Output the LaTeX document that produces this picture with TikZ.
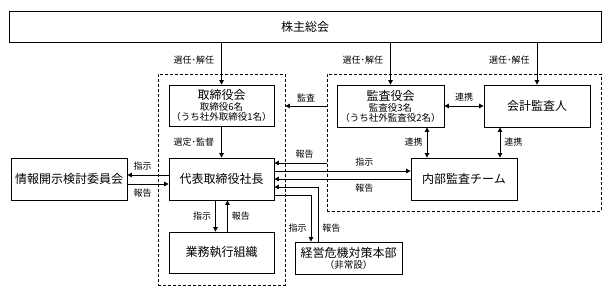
\documentclass[tikz,border=0pt]{standalone}
\usepackage{fontspec}
\setmainfont{Noto Sans CJK JP}
\usetikzlibrary{arrows.meta,calc}

\newcommand{\bigtxt}{\fontsize{12}{14}\selectfont}
\newcommand{\smtxt}{\fontsize{9.5}{11}\selectfont}

\begin{document}
\begin{tikzpicture}[x=1pt,y=-1pt,line width=0.8pt]

\tikzstyle{box}=[draw,rectangle,inner sep=0pt,align=center,font=\bigtxt];
\tikzstyle{group}=[draw,dash pattern=on 3pt off 2pt,rectangle,inner sep=0pt];
\tikzstyle{lbl}=[inner sep=1pt,font=\fontsize{9}{10}\selectfont];
\tikzstyle{arr}=[-{Triangle[length=4.5pt,width=4.5pt]}];
\tikzstyle{darr}=[{Triangle[length=4.5pt,width=4.5pt]}-{Triangle[length=4.5pt,width=4.5pt]}];

\useasboundingbox (0,0) rectangle (612,296);

% Dashed groups
\node[group,minimum width=127pt,minimum height=211pt] (grpL) at (221.5,179.5) {};
\node[group,minimum width=274pt,minimum height=137pt] (grpR) at (464,142.5) {};

% Boxes
\node[box,minimum width=592pt,minimum height=31pt] (soukai) at (305,26.5) {株主総会};
\node[box,minimum width=105pt,minimum height=41pt] (torishimari) at (221.5,105.5)
  {取締役会\\[-3pt]{\smtxt 取締役6名}\\[-4pt]{\smtxt （うち社外取締役1名）}};
\node[box,minimum width=107pt,minimum height=42pt] (kansayaku) at (390.5,106)
  {監査役会\\[-3pt]{\smtxt 監査役3名}\\[-4pt]{\smtxt （うち社外監査役2名）}};
\node[box,minimum width=106pt,minimum height=42pt] (kaikei) at (537,106) {会計監査人};
\node[box,minimum width=106pt,minimum height=42pt] (naibu) at (464,179) {内部監査チーム};
\node[box,minimum width=105pt,minimum height=42pt] (daihyo) at (221.5,179) {代表取締役社長};
\node[box,minimum width=116pt,minimum height=42pt] (joho) at (69,179) {情報開示検討委員会};
\node[box,minimum width=105pt,minimum height=41pt] (gyomu) at (221.5,252.5) {業務執行組織};
\node[box,minimum width=107pt,minimum height=32pt] (keiei) at (348.5,258)
  {経営危機対策本部\\[-3pt]{\smtxt （非常設）}};

% From the general meeting
\draw[arr] (soukai.south -| torishimari) -- node[lbl,pos=0.42,left=6pt] (l1) {選任･解任} (torishimari.north);
\draw[arr] (soukai.south -| kansayaku) -- node[lbl,pos=0.42,left=6pt] (l2) {選任･解任} (kansayaku.north);
\draw[arr] (soukai.south -| kaikei) -- node[lbl,pos=0.42,left=6pt] (l3) {選任･解任} (kaikei.north);

% Audit side
\draw[arr] (grpR.west |- kansayaku) -- node[lbl,midway,above=3pt] (l4) {監査} (grpL.east |- kansayaku);
\draw[darr] (kansayaku.east) -- node[lbl,midway,above=3pt] (l5) {連携} (kaikei.west);
\coordinate (c1) at (427,0);
\coordinate (c2) at (500,0);
\draw[darr] (c1 |- kansayaku.south) -- node[lbl,midway,left=3pt] (l6) {連携} (c1 |- naibu.north);
\draw[darr] (c2 |- kaikei.south) -- node[lbl,midway,right=3pt] (l7) {連携} (c2 |- naibu.north);

% President
\draw[arr] (torishimari) -- node[lbl,midway,left=6pt] (l8) {選定･監督} (daihyo);
\draw[arr] ($(daihyo.west)+(0,-4)$) -- node[lbl,pos=0.63,above=3pt] (l9) {指示} ($(joho.east)+(0,-4)$);
\draw[arr] ($(joho.east)+(0,5)$) -- node[lbl,pos=0.37,below=4pt] (l10) {報告} ($(daihyo.west)+(0,5)$);
\draw[arr] (grpR.west |- 0,163) -- node[lbl,pos=0.42,above=3pt] (l11) {報告} (daihyo.east |- 0,163);
\draw[arr] (daihyo.east |- 0,171) -- node[lbl,pos=0.66,above=3pt] (l12) {指示} (naibu.west |- 0,171);
\draw[arr] (naibu.west) -- node[lbl,pos=0.34,below=4pt] (l13) {報告} (daihyo.east);

% Crisis headquarters
\coordinate (c3) at (311,195);
\coordinate (c4) at (318,187);
\draw[arr] (daihyo.east |- c3) -- (c3) -- node[lbl,pos=0.7,left=3pt] (l14) {指示} (c3 |- keiei.north);
\draw[arr] (c4 |- keiei.north) -- node[lbl,pos=0.25,right=3pt] (l15) {報告} (c4) -- (daihyo.east |- c4);

% Operations
\draw[arr] ($(daihyo.south)+(-6,0)$) -- node[lbl,midway,left=3pt] (l16) {指示} ($(gyomu.north)+(-6,0)$);
\draw[arr] ($(gyomu.north)+(6,0)$) -- node[lbl,midway,right=3pt] (l17) {報告} ($(daihyo.south)+(6,0)$);

\end{tikzpicture}
\end{document}
